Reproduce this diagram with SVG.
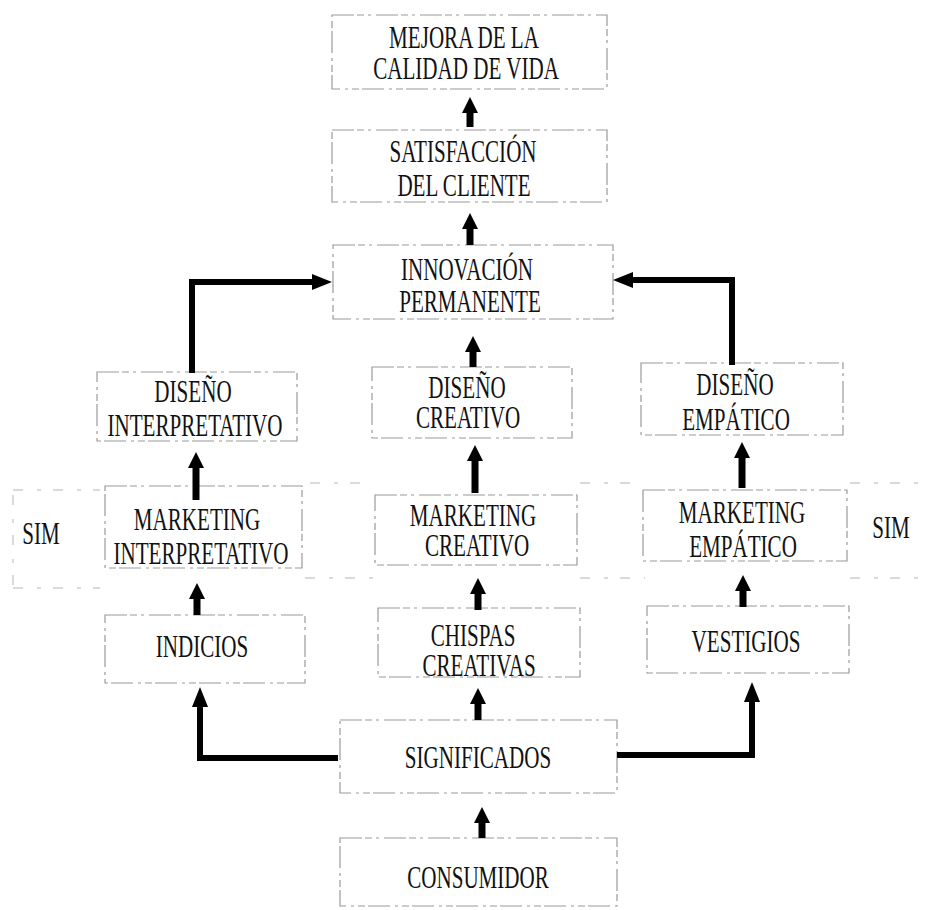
<svg xmlns="http://www.w3.org/2000/svg" width="934" height="910" viewBox="0 0 934 910">
<style>
  .box{fill:none;stroke:#9a9a9a;stroke-width:1.2;stroke-dasharray:22 3 7 4 3 5}
  .faint{fill:none;stroke:#b5b5b5;stroke-width:1;stroke-dasharray:10 14 4 12}
  .t{font-family:"Liberation Serif","Times New Roman",serif;font-size:31px;fill:#111;text-anchor:middle}
  .small{stroke:#000;stroke-width:7;fill:none}
  .conn{stroke:#000;stroke-width:6;fill:none;stroke-linejoin:miter}
</style>
<defs>
  <marker id="hs" markerUnits="userSpaceOnUse" markerWidth="20" markerHeight="20" refX="0" refY="8" orient="auto" viewBox="0 0 20 16">
    <path d="M0,0 L16,8 L0,16 z" fill="#000"/>
  </marker>
  <marker id="hl" markerUnits="userSpaceOnUse" markerWidth="24" markerHeight="20" refX="0" refY="8" orient="auto" viewBox="0 0 24 16">
    <path d="M0,0 L20,8 L0,16 z" fill="#000"/>
  </marker>
</defs>
<rect width="934" height="910" fill="#fff"/>

<g id="grid-faint">
  <path class="faint" d="M13,490 H100 M13,588 H100 M13,495 V585"/>
  <path class="faint" d="M850,483 H930 M850,578 H930"/>
  <path class="faint" d="M310,483 H370 M305,578 H375 M580,483 H640 M580,578 H645"/>
</g>

<g id="n-mejora">
  <rect class="box" x="332" y="15" width="275" height="74"/>
  <text class="t" transform="translate(464,48) scale(0.68,1)">MEJORA DE LA</text>
  <text class="t" transform="translate(466,79) scale(0.68,1)">CALIDAD DE VIDA</text>
</g>
<g id="n-satisfaccion">
  <rect class="box" x="332" y="130" width="275" height="72"/>
  <text class="t" transform="translate(463,162) scale(0.68,1)">SATISFACCIÓN</text>
  <text class="t" transform="translate(464,196) scale(0.68,1)">DEL CLIENTE</text>
</g>
<g id="n-innovacion">
  <rect class="box" x="333" y="245" width="280" height="74"/>
  <text class="t" transform="translate(467,280) scale(0.68,1)">INNOVACIÓN</text>
  <text class="t" transform="translate(470,312) scale(0.68,1)">PERMANENTE</text>
</g>
<g id="n-diseno-creativo">
  <rect class="box" x="372" y="367" width="200" height="71"/>
  <text class="t" transform="translate(467,398) scale(0.68,1)">DISEÑO</text>
  <text class="t" transform="translate(468,428) scale(0.68,1)">CREATIVO</text>
</g>
<g id="n-marketing-creativo">
  <rect class="box" x="375" y="495" width="202" height="70"/>
  <text class="t" transform="translate(473,526) scale(0.68,1)">MARKETING</text>
  <text class="t" transform="translate(477,556) scale(0.68,1)">CREATIVO</text>
</g>
<g id="n-chispas">
  <rect class="box" x="378" y="608" width="202" height="69"/>
  <text class="t" transform="translate(473,646) scale(0.68,1)">CHISPAS</text>
  <text class="t" transform="translate(479,676) scale(0.68,1)">CREATIVAS</text>
</g>
<g id="n-significados">
  <rect class="box" x="340" y="720" width="277" height="73"/>
  <text class="t" transform="translate(478,768) scale(0.68,1)">SIGNIFICADOS</text>
</g>
<g id="n-consumidor">
  <rect class="box" x="340" y="838" width="277" height="68"/>
  <text class="t" transform="translate(478,888) scale(0.68,1)">CONSUMIDOR</text>
</g>

<g id="n-diseno-interpretativo">
  <rect class="box" x="97" y="372" width="200" height="69"/>
  <text class="t" transform="translate(193,402) scale(0.68,1)">DISEÑO</text>
  <text class="t" transform="translate(195,436) scale(0.68,1)">INTERPRETATIVO</text>
</g>
<g id="n-marketing-interpretativo">
  <rect class="box" x="105" y="486" width="197" height="82"/>
  <text class="t" transform="translate(197,530) scale(0.68,1)">MARKETING</text>
  <text class="t" transform="translate(201,564) scale(0.68,1)">INTERPRETATIVO</text>
</g>
<g id="n-indicios">
  <rect class="box" x="105" y="615" width="200" height="68"/>
  <text class="t" transform="translate(202,657) scale(0.68,1)">INDICIOS</text>
</g>

<g id="n-diseno-empatico">
  <rect class="box" x="641" y="363" width="202" height="72"/>
  <text class="t" transform="translate(735,395) scale(0.68,1)">DISEÑO</text>
  <text class="t" transform="translate(736,430) scale(0.68,1)">EMPÁTICO</text>
</g>
<g id="n-marketing-empatico">
  <rect class="box" x="643" y="490" width="204" height="71"/>
  <text class="t" transform="translate(742,523) scale(0.68,1)">MARKETING</text>
  <text class="t" transform="translate(743,557) scale(0.68,1)">EMPÁTICO</text>
</g>
<g id="n-vestigios">
  <rect class="box" x="647" y="606" width="202" height="67"/>
  <text class="t" transform="translate(746,652) scale(0.68,1)">VESTIGIOS</text>
</g>

<g id="n-sim-left">
  <text class="t" transform="translate(41,544) scale(0.68,1)">SIM</text>
</g>
<g id="n-sim-right">
  <text class="t" transform="translate(891,538) scale(0.68,1)">SIM</text>
</g>

<g id="connectors">
  <line class="small" x1="470" y1="127" x2="470" y2="113" marker-end="url(#hs)"/>
  <line class="small" x1="470" y1="245" x2="470" y2="229" marker-end="url(#hs)"/>
  <line class="small" x1="473" y1="367" x2="473" y2="352" marker-end="url(#hs)"/>
  <line class="small" x1="475" y1="493" x2="475" y2="461" marker-end="url(#hs)"/>
  <line class="small" x1="478" y1="610" x2="478" y2="594" marker-end="url(#hs)"/>
  <line class="small" x1="478" y1="720" x2="478" y2="704" marker-end="url(#hs)"/>
  <line class="small" x1="482" y1="838" x2="482" y2="823" marker-end="url(#hs)"/>
  <line class="small" x1="196" y1="500" x2="196" y2="468" marker-end="url(#hs)"/>
  <line class="small" x1="197" y1="615" x2="197" y2="599" marker-end="url(#hs)"/>
  <line class="small" x1="742" y1="488" x2="742" y2="458" marker-end="url(#hs)"/>
  <line class="small" x1="743" y1="607" x2="743" y2="591" marker-end="url(#hs)"/>
  <path class="conn" d="M192,373 V282 H312" marker-end="url(#hl)"/>
  <path class="conn" d="M732,365 V280 H633" marker-end="url(#hl)"/>
  <path class="conn" d="M338,758 H200 V707" marker-end="url(#hl)"/>
  <path class="conn" d="M617,755 H752 V702" marker-end="url(#hl)"/>
</g>
</svg>
